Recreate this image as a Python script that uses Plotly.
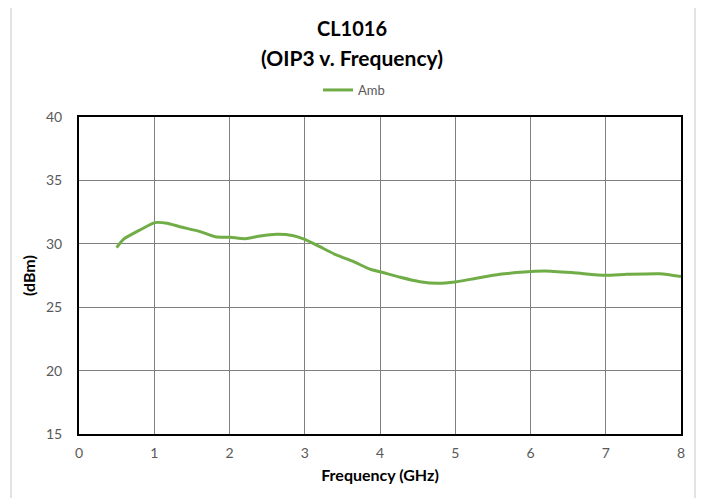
import plotly.graph_objects as go

freq_ghz = [0.50, 0.59, 0.81, 1.01, 1.17, 1.34, 1.61, 1.81, 2.01, 2.21, 2.41, 2.63, 2.85, 3.00,
            3.20, 3.42, 3.65, 3.87, 4.00, 4.27, 4.53, 4.77, 5.00, 5.28, 5.59, 5.86, 6.19,
            6.57, 6.99, 7.28, 7.72, 8.00]
oip3_amb = [29.69, 30.35, 31.09, 31.67, 31.62, 31.35, 30.96, 30.56, 30.51, 30.40, 30.62, 30.75,
            30.64, 30.35, 29.77, 29.12, 28.59, 27.99, 27.80, 27.36, 27.01, 26.88, 26.99, 27.28,
            27.59, 27.75, 27.86, 27.72, 27.51, 27.59, 27.64, 27.41]

x_ticks = [0, 1, 2, 3, 4, 5, 6, 7, 8]
y_ticks = [15, 20, 25, 30, 35, 40]

FONT = "Lato, 'Open Sans', sans-serif"

# Page is offset by the browser's default 8px body margin; compensate in margins.
OFF = 8
W, H = 704, 498
L, R, T, B = 79 - OFF, 704 - 681 + OFF, 117 - OFF, 498 - 434 + OFF
plot_w = W - L - R
plot_h = H - T - B

def px_to_paper_x(px):
    return (px - 79) / plot_w

def px_to_paper_y(py):
    return (434 - py) / plot_h

fig = go.Figure()
fig.add_trace(go.Scatter(
    x=freq_ghz, y=oip3_amb, mode="lines", name="Amb",
    line=dict(color="#70AD47", width=3, shape="spline", smoothing=0.6),
))

fig.update_layout(
    width=W, height=H,
    margin=dict(l=L, r=R, t=T, b=B, autoexpand=False),
    paper_bgcolor="white", plot_bgcolor="white",
    font=dict(family=FONT, color="#595959", size=14),
    showlegend=True,
    legend=dict(orientation="h", x=px_to_paper_x(318), xanchor="left",
                y=px_to_paper_y(90), yanchor="middle",
                font=dict(size=13, color="#595959"), itemwidth=30,
                bgcolor="rgba(0,0,0,0)"),
    annotations=[
        dict(text="<b>CL1016</b>", x=px_to_paper_x(352), y=px_to_paper_y(28),
             xref="paper", yref="paper", xanchor="center", yanchor="middle",
             showarrow=False, font=dict(size=20, color="#000000", family=FONT)),
        dict(text="<b>(OIP3 v. Frequency)</b>", x=px_to_paper_x(352), y=px_to_paper_y(57),
             xref="paper", yref="paper", xanchor="center", yanchor="middle",
             showarrow=False, font=dict(size=21, color="#000000", family=FONT)),
    ],
    shapes=[
        dict(type="rect", xref="paper", yref="paper",
             x0=px_to_paper_x(11), x1=px_to_paper_x(695),
             y0=px_to_paper_y(520), y1=px_to_paper_y(5),
             line=dict(color="#e3e3e3", width=2), layer="below"),
    ],
)

fig.update_xaxes(
    range=[0, 8], tickvals=x_ticks, ticks="", showgrid=True, gridcolor="#808080", gridwidth=1,
    showline=True, linecolor="#000000", linewidth=2, mirror=True, zeroline=False,
    tickfont=dict(size=14, color="#595959"), ticklabelstandoff=5,
    title=dict(text="<b>Frequency (GHz)</b>", font=dict(size=16, color="#000000"), standoff=10),
)
fig.update_yaxes(
    range=[15, 40], tickvals=y_ticks, ticks="", showgrid=True, gridcolor="#808080", gridwidth=1,
    showline=True, linecolor="#000000", linewidth=2, mirror=True, zeroline=False,
    tickfont=dict(size=14, color="#595959"), ticklabelstandoff=12,
    title=dict(text="<b>(dBm)</b>", font=dict(size=16, color="#000000"), standoff=6),
)

fig.write_html("out.html")
